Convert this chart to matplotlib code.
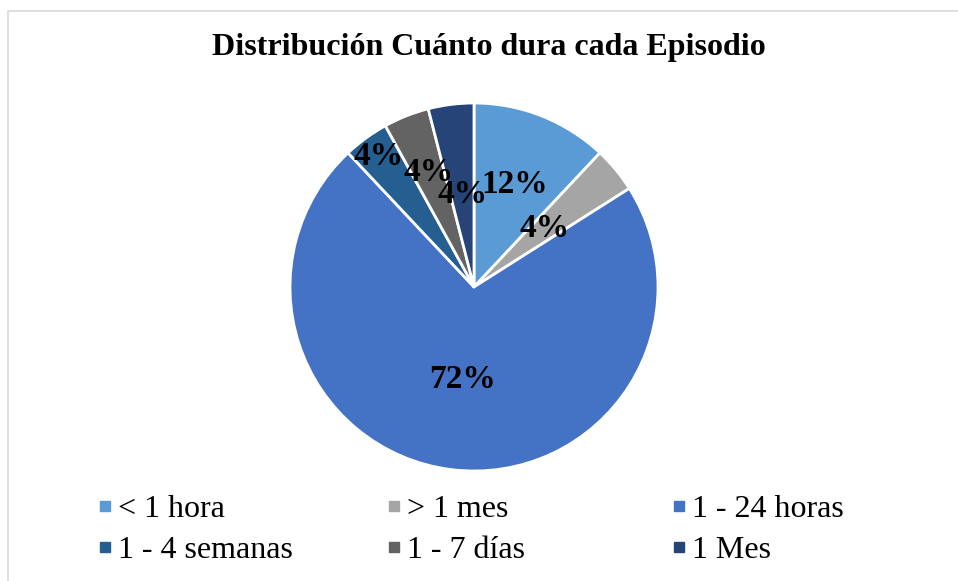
import numpy as np
import matplotlib
matplotlib.use('Agg')
import matplotlib.pyplot as plt
from matplotlib.lines import Line2D
from matplotlib.patches import Rectangle

# datos del grafico
categorias = ['< 1 hora', '> 1 mes', '1 - 24 horas', '1 - 4 semanas', '1 - 7 días', '1 Mes']
porcentajes = [12, 4, 72, 4, 4, 4]
colores = ['#5B9BD5', '#A5A5A5', '#4472C4', '#255E91', '#636363', '#264478']
titulo = 'Distribución Cuánto dura cada Episodio'

# distancia de cada etiqueta al centro (como lo acomoda Excel)
dist_etiquetas = [0.60, 0.50, 0.505, 0.88, 0.67, 0.505]

plt.rcParams['font.family'] = ['Liberation Serif', 'DejaVu Serif']

fig = plt.figure(figsize=(9.58, 5.81), dpi=100)

# marco gris claro del area del grafico
fig.patches.append(Rectangle((8 / 958, -0.1), 1.2, (581 - 11) / 581 + 0.1,
                             transform=fig.transFigure, fill=False,
                             edgecolor='#D9D9D9', linewidth=1.2))

fig.text(489 / 958, 1 - 48 / 581, titulo, ha='center', va='center',
         fontsize=23, fontweight='bold')

ax = fig.add_axes([290 / 958, (581 - 471) / 581, 368 / 958, 368 / 581])
wedges, texts, autotexts = ax.pie(
    porcentajes, colors=colores, startangle=90, counterclock=False,
    autopct='%1.0f%%', wedgeprops=dict(edgecolor='white', linewidth=2),
    textprops=dict(fontsize=24, fontweight='bold', color='black'))
ax.set_xlim(-1, 1)
ax.set_ylim(-1, 1)
ax.set_aspect('equal')

for w, t, d in zip(wedges, autotexts, dist_etiquetas):
    ang = np.deg2rad((w.theta1 + w.theta2) / 2)
    t.set_position((d * np.cos(ang), d * np.sin(ang)))

# leyenda en tres columnas, como en Excel
xs_col = [96, 385, 670]
for j in range(3):
    idx = [j, j + 3]
    handles = [Line2D([], [], marker='s', linestyle='none', markersize=7,
                      markerfacecolor=colores[i], markeredgecolor=colores[i])
               for i in idx]
    fig.legend(handles, [categorias[i] for i in idx], loc='upper left',
               bbox_to_anchor=(xs_col[j] / 958, 1 - 495 / 581),
               frameon=False, fontsize=23, handlelength=0.55,
               handletextpad=0.15, labelspacing=0.36, borderpad=0,
               borderaxespad=0)

plt.savefig('out.png', dpi=100)
